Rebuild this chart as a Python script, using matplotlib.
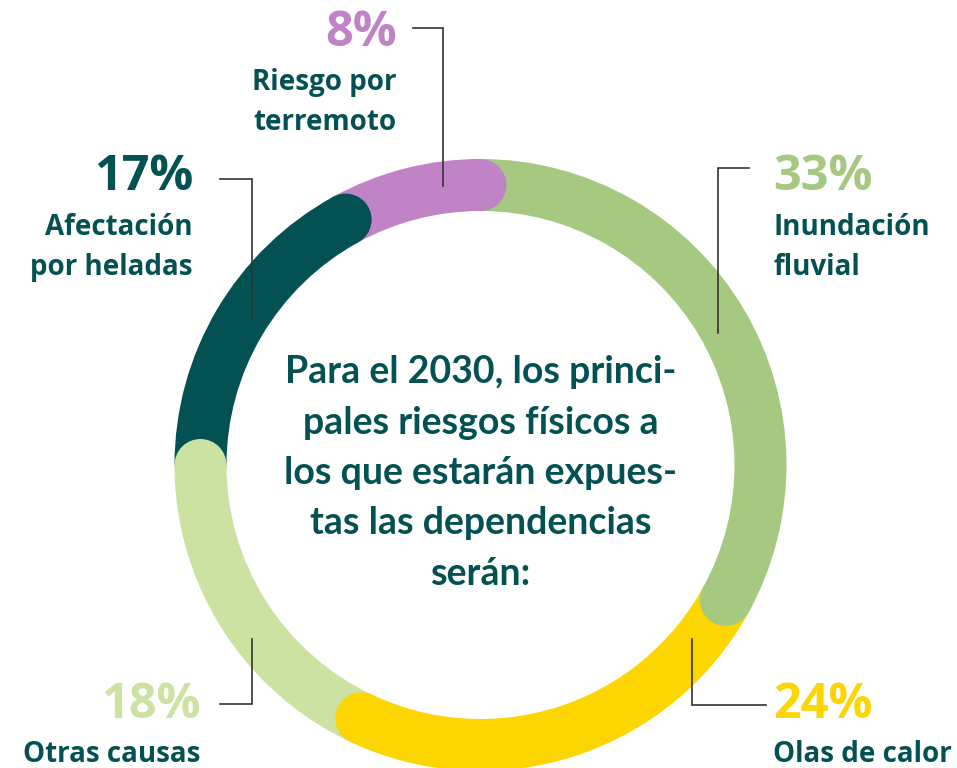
import numpy as np
import matplotlib
matplotlib.use("Agg")
import matplotlib.pyplot as plt
from matplotlib.patches import Wedge, Circle

# shares, clockwise from 12 o'clock
labels = ["Inundación\nfluvial", "Olas de calor", "Otras causas",
          "Afectación\npor heladas", "Riesgo por\nterremoto"]
values = [33, 24, 18, 17, 8]
colors = ["#a5c981", "#fdd500", "#cce2a3", "#035152", "#c083c6"]
dark = "#035152"

center_lines = ["Para el 2030, los princi-", "pales riesgos físicos a",
                "los que estarán expues-", "tas las dependencias", "serán:"]

plt.rcParams['font.family'] = ['Lato', 'DejaVu Sans']
label_font = ['Open Sans', 'DejaVu Sans']

fig = plt.figure(figsize=(9.57, 7.68), dpi=100)
ax = fig.add_axes([0, 0, 1, 1])
ax.set_xlim(0, 957)
ax.set_ylim(768, 0)
ax.set_aspect('equal')
ax.axis('off')

cx, cy = 480.5, 465
r_out, ring = 306, 52
r_mid = r_out - ring / 2

total = sum(values)
ends = np.cumsum(values) / total * 360
starts = ends - np.array(values) / total * 360

# ring segments (screen angle a clockwise from top -> data angle a-90 with y flipped)
for s, e, c in zip(starts, ends, colors):
    ax.add_patch(Wedge((cx, cy), r_out, s - 90, e - 90, width=ring,
                       facecolor=c, edgecolor='none'))
# rounded caps at the end of each segment
for e, c in zip(ends, colors):
    a = np.radians(e)
    ax.add_patch(Circle((cx + r_mid * np.sin(a), cy - r_mid * np.cos(a)),
                        ring / 2, facecolor=c, edgecolor='none'))

for i, line in enumerate(center_lines):
    ax.text(cx, 383 + i * 50.5, line, ha='center', va='baseline', fontsize=27,
            fontweight='bold', color=dark)

# labels: (x, y of percent, alignment)
pos = [(773, 178, 'left'), (773, 705, 'left'), (200, 705, 'right'),
       (193, 178, 'right'), (397, 33, 'right')]
for (x, y, ha), v, lab, c in zip(pos, values, labels, colors):
    ax.text(x, y, f"{v}%", ha=ha, va='center', fontsize=35,
            fontweight='bold', color=c, family=label_font)
    for i, line in enumerate(lab.split('\n')):
        ax.text(x, y + 57 + i * 40, line, ha=ha, va='baseline', fontsize=20,
                fontweight='bold', color=dark, family=label_font)

# leader lines
leaders = [([749, 718, 718], [168, 168, 333]),
           ([692, 692, 766], [639, 705, 705]),
           ([252, 252, 220], [639, 704, 704]),
           ([220, 252, 252], [179, 179, 319]),
           ([413, 443, 443], [28, 28, 186])]
for xs, ys in leaders:
    ax.plot(xs, ys, color='#333333', lw=1.2, solid_joinstyle='miter')

fig.savefig('out.png', dpi=100)
